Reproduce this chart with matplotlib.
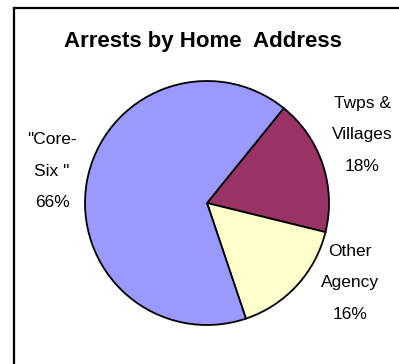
import matplotlib
matplotlib.use("Agg")
import matplotlib.pyplot as plt
from matplotlib.lines import Line2D

# Arrests by home address (percent)
categories = ["Twps &\nVillages", "Other\nAgency", "\"Core-\nSix \""]
shares = [18, 16, 66]
colors = ["#993366", "#FFFFCC", "#9999FF"]

W, H = 399, 364
fig = plt.figure(figsize=(W / 100, H / 100), dpi=100)
plt.rcParams["font.family"] = ["Liberation Sans", "DejaVu Sans"]

# chart-area frame (top and left edges visible)
fig.add_artist(Line2D([13.5 / W, 1.0], [1 - 7.5 / H, 1 - 7.5 / H],
                      transform=fig.transFigure, color="black", lw=1.6))
fig.add_artist(Line2D([13.5 / W, 13.5 / W], [0.0, 1 - 7.5 / H],
                      transform=fig.transFigure, color="black", lw=1.6))

# pie centred at (207, 203) px with radius 122 px
cx, cy, r = 207, 203, 122
ax = fig.add_axes([(cx - r) / W, 1 - (cy + r) / H, 2 * r / W, 2 * r / H])
wedges, _ = ax.pie(shares, colors=colors, startangle=51, counterclock=False,
                   wedgeprops=dict(edgecolor="black", linewidth=1.3),
                   radius=1.0)
ax.set_xlim(-1, 1)
ax.set_ylim(-1, 1)
ax.set_aspect("equal")
ax.axis("off")

fig.text(203 / W, 1 - 41 / H, "Arrests by Home  Address", ha="center",
         va="center", fontsize=16, fontweight="bold")

label_pos = [(362, 135), (350, 283), (52, 171)]
for (lx, ly), name, val in zip(label_pos, categories, shares):
    fig.text(lx / W, 1 - ly / H, f"{name}\n{val}%", ha="center", va="center",
             fontsize=12.5, linespacing=2.4)

fig.savefig("out.png", dpi=100)
